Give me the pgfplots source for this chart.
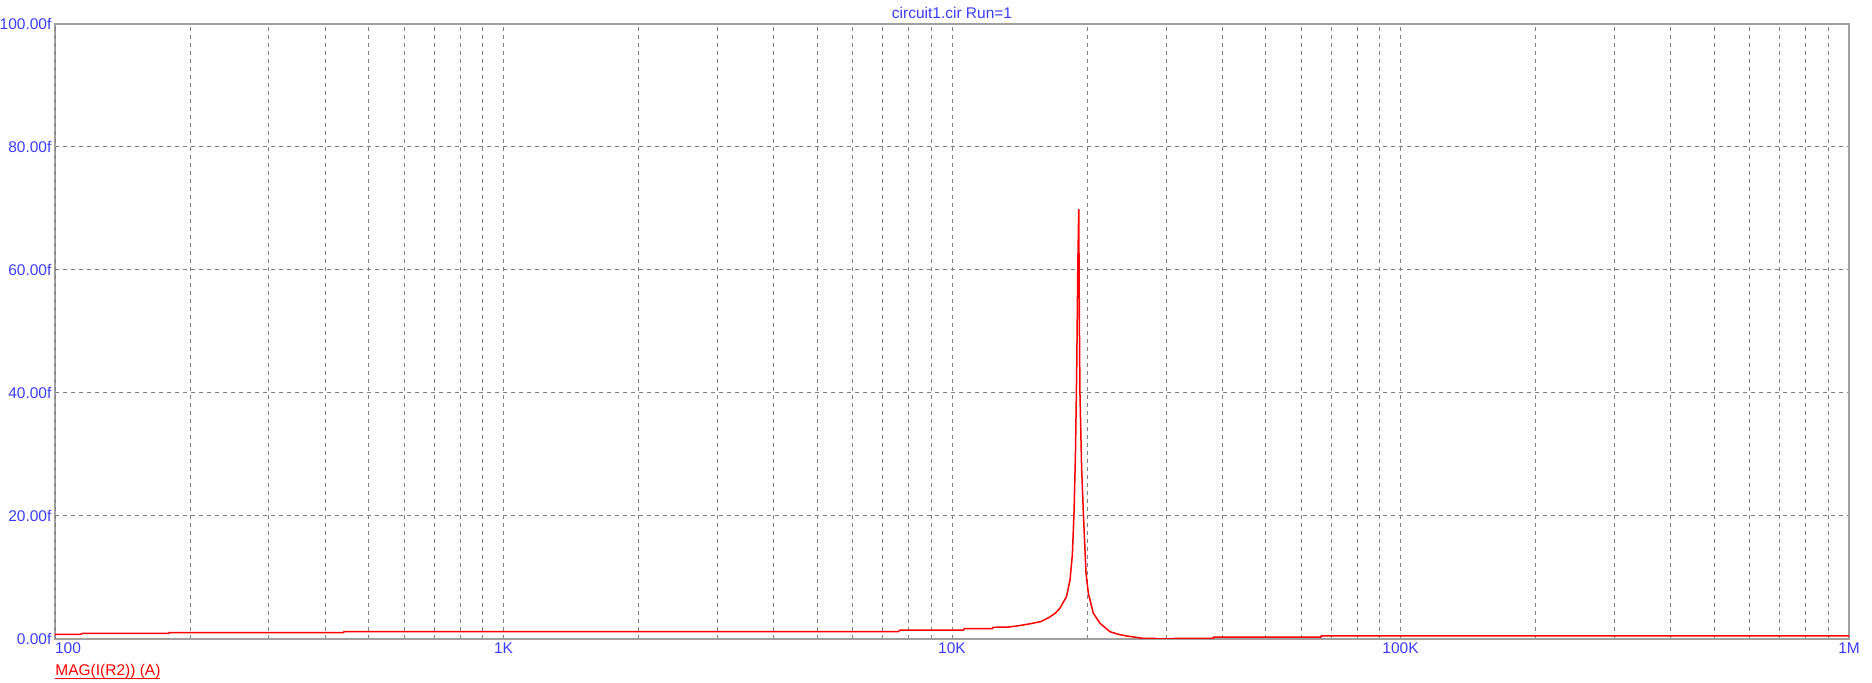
\documentclass[border=0pt]{standalone}
\usepackage{pgfplots}
\pgfplotsset{compat=1.18}
\usepackage{fontspec}
\setmainfont{Liberation Sans}
\definecolor{lblue}{RGB}{60,60,255}
\definecolor{gridgray}{RGB}{128,128,128}
\definecolor{framegray}{RGB}{160,160,160}
\newsavebox\legbox
\begin{document}
\fontsize{7.75pt}{9pt}\selectfont
\begin{tikzpicture}
\useasboundingbox (-27.5pt,-22pt) rectangle (908.5pt,319.5pt);
\begin{axis}[
  at={(0,0)}, anchor=south west,
  scale only axis, width=897pt, height=307.5pt,
  clip mode=individual,
  xmode=log, xmin=100, xmax=1000000, ymin=0, ymax=100,
  xtick={1000,10000,100000,1000000},
  xticklabels={1K,10K,100K,1M},
  minor xtick={200,300,400,500,600,700,800,900,2000,3000,4000,5000,6000,7000,8000,9000,20000,30000,40000,50000,60000,70000,80000,90000,200000,300000,400000,500000,600000,700000,800000,900000},
  extra x ticks={100}, extra x tick labels={100},
  extra x tick style={xticklabel style={anchor=north, xshift=6.5pt}},
  ytick={0,20,40,60,80,100},
  yticklabels={0.00f,20.00f,40.00f,60.00f,80.00f,100.00f},
  xmajorgrids, xminorgrids, ymajorgrids,
  major grid style={gridgray, dash pattern=on 2pt off 2pt, line width=0.5pt},
  minor grid style={gridgray, dash pattern=on 2pt off 2pt, line width=0.5pt},
  major tick length=0pt, minor tick length=0pt,
  tick label style={font=\fontsize{7.75pt}{9pt}\selectfont, text=lblue, inner sep=0pt},
  yticklabel style={anchor=east, xshift=-1.6pt},
  xticklabel style={anchor=north, yshift=-1.5pt},
  axis line style={framegray, line width=1pt},
  title={circuit1.cir Run=1},
  title style={at={(0.5,1)}, anchor=base, yshift=-3.5pt, text=lblue, inner sep=0pt, font=\fontsize{7.75pt}{9pt}\selectfont},
]
\addplot[red, line width=0.75pt] table {
x y
100 0.75
114 0.75
115 0.9
179 0.9
180 1.05
440 1.05
441 1.2
7600 1.2
7660 1.45
10600 1.45
10650 1.68
12300 1.7
12350 1.9
13400 1.95
14200 2.2
15000 2.5
15800 2.85
16500 3.55
17000 4.2
17400 5.0
18000 6.9
18330 9.6
18550 13.7
18710 20.5
18850 30
18970 43.5
19080 61
19170 69.9
19230 52
19290 40
19450 28
19630 20.5
19900 10.7
20140 7.4
20650 4.2
21380 2.55
22500 1.19
23500 0.75
24510 0.49
26710 0.1
28400 0.1
28500 0.0
31100 0.0
31200 0.12
38200 0.12
38300 0.3
66500 0.3
66600 0.5
1000000 0.5
};
\node[anchor=base west, inner sep=0pt, text=red, font=\fontsize{7.75pt}{9pt}\selectfont] at (rel axis cs:0,0) [yshift=-18.5pt] {\sbox\legbox{MAG(I(R2)) (A)}\rlap{\rule[-1.6pt]{\wd\legbox}{0.5pt}}\usebox\legbox};
\end{axis}
\end{tikzpicture}
\end{document}
